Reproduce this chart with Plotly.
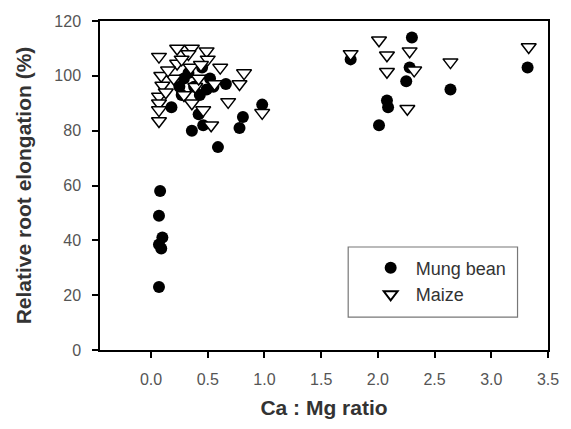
import plotly.graph_objects as go

# Relative root elongation (%) versus Ca:Mg ratio
mung_x = [0.08, 0.07, 0.10, 0.07, 0.09, 0.07,
          0.18, 0.27, 0.29, 0.25, 0.38, 0.43, 0.49, 0.55, 0.52, 0.66, 0.42,
          0.36, 0.46, 0.59, 0.78, 0.81, 0.98, 0.33, 0.45,
          1.76, 2.01, 2.08, 2.09, 2.25, 2.28, 2.30, 2.64, 3.32]
mung_y = [58, 49, 41, 38.5, 37, 23,
          88.5, 93, 99, 96, 96, 93, 95, 96, 99, 97, 86,
          80, 82, 74, 81, 85, 89.5, 101, 103,
          106, 82, 91, 88.5, 98, 103, 114, 95, 103]

maize_x = [0.07, 0.23, 0.36, 0.49, 0.33, 0.50, 0.23, 0.35, 0.44, 0.61, 0.82,
           0.09, 0.20, 0.10, 0.39, 0.56, 0.78, 0.07, 0.29, 0.07, 0.68, 0.36,
           0.07, 0.46, 0.07, 0.53, 0.98, 0.15, 0.27, 0.42, 0.13,
           1.76, 2.01, 2.08, 2.08, 2.28, 2.32, 2.26, 2.64, 3.33]
maize_y = [107, 110, 110, 109, 108, 106, 104.5, 103, 104, 103, 101,
           100, 99, 96.5, 96, 97, 97, 92.5, 93, 90, 90.5, 90,
           87.5, 87.5, 83.5, 82, 86.5, 102, 106, 99, 94,
           108, 113, 107.5, 101.5, 109, 102, 88, 105, 110.5]

x_ticks = [0.0, 0.5, 1.0, 1.5, 2.0, 2.5, 3.0, 3.5]
y_ticks = [0, 20, 40, 60, 80, 100, 120]

fig = go.Figure()
fig.add_trace(go.Scatter(
    x=mung_x, y=mung_y, mode="markers", name="Mung bean",
    marker=dict(symbol="circle", size=12, color="black",
                line=dict(width=0)),
))
fig.add_trace(go.Scatter(
    x=maize_x, y=maize_y, mode="markers", name="Maize",
    marker=dict(symbol="triangle-down", size=13, color="white",
                line=dict(width=1.5, color="black")),
))

tick_font = dict(family="Liberation Sans, Arial, sans-serif", size=16, color="#555555")
title_font = dict(family="Liberation Sans, Arial, sans-serif", size=21, color="#333333")

fig.update_layout(
    width=571, height=429,
    margin=dict(l=100, r=14, t=21, b=79),
    paper_bgcolor="white", plot_bgcolor="white",
    showlegend=True,
    legend=dict(
        x=0.593, y=0.305, xanchor="left", yanchor="top",
        bgcolor="rgba(0,0,0,0)", borderwidth=0,
        font=dict(family="Liberation Sans, Arial, sans-serif", size=18, color="#333333"),
        itemsizing="constant", itemwidth=40, tracegroupgap=0,
    ),
    shapes=[dict(type="rect", xref="paper", yref="paper",
                 x0=0.554, x1=0.932, y0=0.100, y1=0.313,
                 line=dict(color="#777777", width=1.2),
                 fillcolor="rgba(0,0,0,0)")],
    xaxis=dict(
        range=[-0.45, 3.5], tickvals=x_ticks,
        ticktext=[f"{v:.1f}" for v in x_ticks],
        showgrid=False, zeroline=False,
        showline=True, linecolor="black", linewidth=1.5, mirror=True,
        ticks="outside", ticklen=6, tickcolor="black", tickwidth=1.5,
        ticklabelstandoff=8,
        tickfont=tick_font,
        title=dict(text="<b>Ca : Mg ratio</b>", font=title_font, standoff=13),
    ),
    yaxis=dict(
        range=[0, 120], tickvals=y_ticks,
        showgrid=False, zeroline=False,
        showline=True, linecolor="black", linewidth=1.5, mirror=True,
        ticks="outside", ticklen=6, tickcolor="black", tickwidth=1.5,
        ticklabelstandoff=8,
        tickfont=tick_font,
        title=dict(text="<b>Relative root elongation (%)</b>", font=title_font, standoff=17),
    ),
)

fig.write_html("out.html")
